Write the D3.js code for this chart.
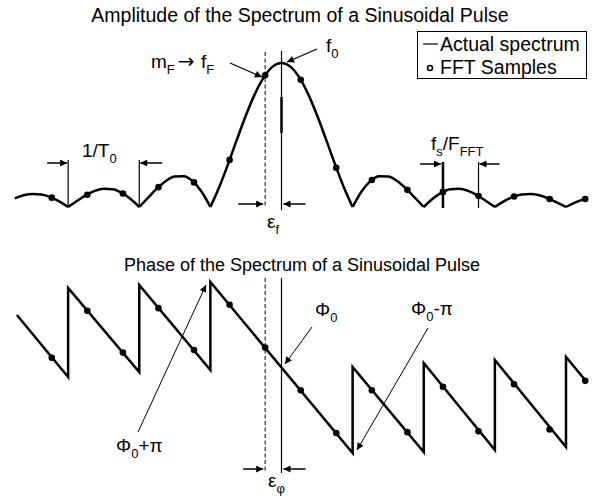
<!DOCTYPE html>
<html>
<head>
<meta charset="utf-8">
<script src="https://cdn.jsdelivr.net/npm/d3@7"></script>
<style>
  body { margin: 0; background: #fff; }
  text { font-family: "Liberation Sans", Arial, Helvetica, sans-serif; fill: #000; }
</style>
</head>
<body>
<svg id="chart" width="600" height="497"></svg>
<script>
// Frequency axis is in units of 1/T0, centred on the tone frequency f0.
const spectrumFreq = d3.range(-30, 35).map(k => k / 8);
// |X(f)| of the pulse, normalised to the peak (main lobe + side lobes)
const spectrumAmp = [
  0.060, 0.081, 0.091, 0.087, 0.069, 0.039, 0,
  0.042, 0.082, 0.112, 0.127, 0.124, 0.100, 0.057, 0,
  0.065, 0.129, 0.181, 0.212, 0.214, 0.180, 0.108, 0,
  0.139, 0.300, 0.471, 0.637, 0.784, 0.900, 0.975, 1.000,
  0.975, 0.900, 0.784, 0.637, 0.471, 0.300, 0.139, 0,
  0.108, 0.180, 0.214, 0.212, 0.181, 0.129, 0.065, 0,
  0.057, 0.100, 0.124, 0.127, 0.112, 0.082, 0.042, 0,
  0.039, 0.069, 0.087, 0.091, 0.081, 0.060, 0.031, 0,
  0.030, 0.053
];
// FFT bins (spacing fs/F_FFT = 0.5 / T0), offset from f0 by eps_f
const sampleFreq = [-3.23, -2.73, -2.23, -1.73, -1.23, -0.73, -0.23, 0.27,
                     0.77, 1.27, 1.77, 2.27, 2.77, 3.27, 3.77, 4.27];
const sampleAmp  = [0.065, 0.085, 0.094, 0.138, 0.171, 0.327, 0.915, 0.884,
                    0.273, 0.188, 0.119, 0.105, 0.076, 0.073, 0.056, 0.056];
// Phase (in units of pi, relative to Phi0): break points of the sawtooth
const phaseFreq = [-3.72, -3, -3, -2, -2, -1, -1, 1, 1, 2, 2, 3, 3, 4, 4, 4.28];
const phaseVal  = [0.62, -0.105, 0.936, -0.047, 0.971, -0.023, 1.006, -0.994,
                   0.012, -0.982, 0.058, -0.959, 0.094, -0.924, 0.129, -0.152];
const samplePhase = [0.12, 0.67, 0.18, 0.70, 0.21, 0.74, 0.24, -0.26,
                     -0.76, -0.26, -0.75, -0.22, -0.74, -0.19, -0.72, -0.15];
const titles = ["Amplitude of the Spectrum of a Sinusoidal Pulse",
                "Phase of the Spectrum of a Sinusoidal Pulse"];
const legendLabels = ["Actual spectrum", "FFT Samples"];
const epsF = -0.23;   // offset of the nearest FFT bin m_F from f0

const svg = d3.select("#chart");
svg.append("rect").attr("width", 600).attr("height", 497).attr("fill", "#fff");

const x = d3.scaleLinear().domain([-4, 4]).range([-3, 566]);
const yAmp = d3.scaleLinear().domain([0, 1]).range([207, 63]);
const yPh = d3.scaleLinear().domain([-1, 1]).range([453.5, 282.5]);

// arrowhead marker
svg.append("defs").append("marker")
  .attr("id", "ah").attr("viewBox", "0 0 10 10")
  .attr("refX", 10).attr("refY", 5)
  .attr("markerWidth", 9).attr("markerHeight", 7)
  .attr("markerUnits", "userSpaceOnUse").attr("orient", "auto")
  .append("path").attr("d", "M0,0 L10,5 L0,10 Z").attr("fill", "#000");

const FS = 19, SUB = 13;

// ---------- titles ----------
svg.append("text").attr("x", 300).attr("y", 22).attr("text-anchor", "middle")
  .attr("font-size", 19.5).text(titles[0]);
svg.append("text").attr("x", 302).attr("y", 271).attr("text-anchor", "middle")
  .attr("font-size", 18).text(titles[1]);

// ---------- amplitude curve, one path per lobe so nulls stay sharp ----------
const pts = spectrumFreq.map((f, i) => [f, spectrumAmp[i]]);
const lobes = [];
let cur = [];
pts.forEach(p => {
  cur.push(p);
  if (p[1] === 0 && cur.length > 1) { lobes.push(cur); cur = [p]; }
});
if (cur.length > 1) lobes.push(cur);

const ampLine = d3.line().x(d => x(d[0])).y(d => yAmp(d[1])).curve(d3.curveMonotoneX);
svg.append("g").selectAll("path").data(lobes).join("path")
  .attr("d", ampLine).attr("fill", "none").attr("stroke", "#000")
  .attr("stroke-width", 2.5).attr("stroke-linejoin", "round");

svg.append("g").selectAll("circle").data(sampleFreq).join("circle")
  .attr("cx", d => x(d)).attr("cy", (d, i) => yAmp(sampleAmp[i])).attr("r", 3.3)
  .attr("fill", "#000");

// ---------- phase sawtooth ----------
const phLine = d3.line().x(d => x(d[0])).y(d => yPh(d[1]));
svg.append("path").datum(phaseFreq.map((f, i) => [f, phaseVal[i]]))
  .attr("d", phLine).attr("fill", "none").attr("stroke", "#000")
  .attr("stroke-width", 2.5).attr("stroke-linejoin", "miter");

svg.append("g").selectAll("circle").data(sampleFreq).join("circle")
  .attr("cx", d => x(d)).attr("cy", (d, i) => yPh(samplePhase[i])).attr("r", 3.3)
  .attr("fill", "#000");

// ---------- helpers ----------
function seg(x1, y1, x2, y2, w, dash) {
  const l = svg.append("line").attr("x1", x1).attr("y1", y1).attr("x2", x2).attr("y2", y2)
    .attr("stroke", "#000").attr("stroke-width", w || 1);
  if (dash) l.attr("stroke-dasharray", dash);
  return l;
}
function arrow(x1, y1, x2, y2, w) {
  return seg(x1, y1, x2, y2, w || 1).attr("marker-end", "url(#ah)");
}
// label: parts = [[text, "n"|"s"|"a"], ...]  (n: normal, s: subscript, a: arrow glyph)
function label(x0, y0, parts, size) {
  const t = svg.append("text").attr("x", x0).attr("y", y0).attr("font-size", size || FS);
  let shift = 0;
  parts.forEach(([s, kind]) => {
    const sp = t.append("tspan").text(s);
    if (kind === "s") {
      sp.attr("font-size", SUB).attr("dy", 6 - shift); shift = 6;
    } else {
      sp.attr("dy", -shift); shift = 0;
      if (kind === "a") sp.attr("font-family", "DejaVu Sans").attr("font-size", 20)
        .attr("dx", 3).attr("font-weight", "normal");
    }
  });
  return t;
}

// ---------- amplitude annotations ----------
const xf0 = x(0), xmF = x(epsF);
seg(xf0, 51, xf0, 210, 1.2);
seg(xf0, 97, xf0, 133, 2.5);
seg(xmF, 52, xmF, 206, 1, "4,2.5");
arrow(317, 49, 287, 62, 1.2);
arrow(230, 63, 262, 77, 1.2);
label(326, 52, [["f", "n"], ["0", "s"]]);
label(151, 68, [["m", "n"], ["F", "s"], ["\u2192 ", "a"], ["f", "n"], ["F", "s"]]);

arrow(x(epsF) - 27, 204, x(epsF) - 2, 204, 1.5);
arrow(x(0) + 24, 204, x(0) + 2, 204, 1.5);
label(267, 228, [["\u03b5", "n"], ["f", "s"]]);

// 1/T0 spacing of the nulls
seg(x(-3), 160, x(-3), 207, 1.2);
seg(x(-2), 160, x(-2), 207, 1.2);
arrow(x(-3) - 21, 163, x(-3) - 1, 163, 1.5);
arrow(x(-2) + 23, 163, x(-2) + 1, 163, 1.5);
label(82, 157, [["1/T", "n"], ["0", "s"]]);

// fs/F_FFT spacing of the bins
seg(x(2.27), 162, x(2.27), 208, 2.5);
seg(x(2.77), 162, x(2.77), 208, 1.2);
arrow(x(2.27) - 23, 164, x(2.27) - 2, 164, 1.5);
arrow(x(2.77) + 21, 164, x(2.77) + 1, 164, 1.5);
label(431, 150, [["f", "n"], ["s", "s"], ["/F", "n"], ["FFT", "s"]]);

// ---------- legend ----------
svg.append("rect").attr("x", 417.5).attr("y", 31.5).attr("width", 169).attr("height", 47)
  .attr("fill", "#fff").attr("stroke", "#000").attr("stroke-width", 1);
seg(423, 44, 438, 44, 1.2);
svg.append("text").attr("x", 440).attr("y", 51).attr("font-size", 19.5).text(legendLabels[0]);
svg.append("circle").attr("cx", 430).attr("cy", 68).attr("r", 2.5)
  .attr("fill", "#fff").attr("stroke", "#000").attr("stroke-width", 1.5);
svg.append("text").attr("x", 440).attr("y", 74).attr("font-size", 19.5).text(legendLabels[1]);

// ---------- phase annotations ----------
seg(xmF, 278, xmF, 473, 1, "4,2.5");
seg(xf0, 278, xf0, 473, 1.2);
arrow(xmF - 22, 469, xmF - 2, 469, 1.5);
arrow(xf0 + 24, 469, xf0 + 2, 469, 1.5);
label(268, 487, [["\u03b5", "n"], ["\u03c6", "s"]]);

arrow(312, 327, 285, 364, 1);
label(315, 316, [["\u03a6", "n"], ["0", "s"]]);
arrow(428, 328, 357, 450, 1);
label(411, 315, [["\u03a6", "n"], ["0", "s"], ["-\u03c0", "n"]]);
arrow(138, 432, 206, 285, 1);
label(116, 452, [["\u03a6", "n"], ["0", "s"], ["+\u03c0", "n"]]);
</script>
</body>
</html>
